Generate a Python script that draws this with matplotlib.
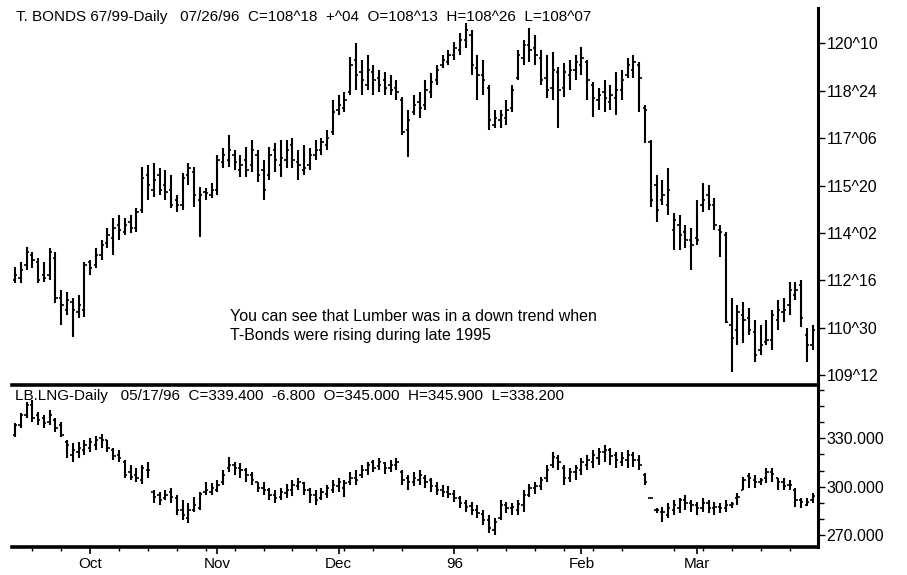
"""
T-Bonds vs Lumber daily bar charts, Sep 1995 - Mar 1996.
"""

import numpy as np
import pandas as pd
import matplotlib
matplotlib.use("Agg")
import matplotlib.pyplot as plt
from matplotlib.ticker import FixedLocator, FuncFormatter

plt.rcParams["font.family"] = ["Liberation Sans", "DejaVu Sans"]

HOLIDAYS = ["1995-11-23", "1995-12-25", "1996-01-01", "1996-02-19"]

TB_HEADER = "T. BONDS 67/99-Daily   07/26/96  C=108^18  +^04  O=108^13  H=108^26  L=108^07"
LB_HEADER = "LB.LNG-Daily   05/17/96  C=339.400  -6.800  O=345.000  H=345.900  L=338.200"
NOTE = ("You can see that Lumber was in a down trend when\n"
        "T-Bonds were rising during late 1995")

# T-Bonds daily OHLC (decimal points)
tb_open = [
    112.51, 112.58, 113.01, 113.34, 113.11, 112.68, 112.68, 113.24, 111.92, 111.53,
    111.79, 111.46, 111.53, 113.11, 113.01, 113.34, 113.73, 113.90, 114.33, 114.10,
    114.43, 114.23, 114.82, 115.97, 115.48, 115.97, 115.64, 115.48, 115.15, 114.98,
    115.97, 116.07, 115.15, 115.41, 115.31, 115.48, 116.40, 116.47, 116.63, 116.14,
    116.47, 116.30, 116.63, 116.14, 115.97, 116.80, 116.30, 116.47, 116.96, 116.40,
    116.14, 116.30, 116.63, 116.80, 116.96, 117.39, 118.12, 118.18, 118.71, 119.76,
    119.37, 118.94, 119.37, 119.17, 119.10, 118.94, 118.84, 118.45, 117.46, 118.05,
    118.38, 118.28, 118.71, 119.10, 119.60, 119.70, 119.93, 120.09, 120.42, 120.59,
    119.50, 119.27, 118.84, 117.62, 117.79, 117.85, 118.18, 119.17, 119.83, 120.26,
    120.16, 119.83, 119.17, 118.84, 119.37, 118.84, 119.27, 119.43, 119.60, 119.70,
    118.94, 118.45, 118.71, 118.38, 118.51, 118.78, 119.27, 119.43, 119.60, 118.18,
    117.06, 115.64, 115.15, 114.98, 114.16, 114.33, 114.10, 113.83, 113.90, 114.98,
    115.31, 114.98, 114.16, 114.00, 111.03, 110.87, 111.36, 111.26, 110.80, 110.21,
    110.47, 110.54, 111.20, 111.46, 111.69, 112.02, 112.35, 110.70, 110.37,
]
tb_high = [
    112.94, 113.11, 113.60, 113.44, 113.24, 113.11, 113.57, 113.44, 112.19, 112.12,
    111.92, 112.02, 113.11, 113.17, 113.57, 113.83, 114.23, 114.56, 114.66, 114.56,
    114.66, 114.89, 116.24, 116.30, 116.37, 116.20, 116.14, 115.97, 115.31, 116.04,
    116.37, 116.24, 115.58, 115.54, 115.71, 116.63, 116.86, 117.29, 116.80, 116.63,
    116.90, 117.13, 116.80, 116.47, 116.90, 117.03, 117.13, 117.13, 117.19, 116.80,
    116.96, 116.86, 117.13, 117.19, 117.46, 118.45, 118.61, 118.71, 119.86, 120.32,
    119.76, 119.93, 119.60, 119.43, 119.37, 119.27, 119.10, 118.54, 118.12, 118.61,
    118.71, 119.10, 119.33, 119.60, 119.93, 120.09, 120.36, 120.65, 120.98, 120.75,
    119.93, 119.76, 118.94, 118.12, 118.12, 118.45, 118.94, 120.09, 120.42, 120.82,
    120.59, 120.09, 119.93, 120.03, 119.53, 119.66, 119.76, 119.93, 120.19, 119.76,
    119.04, 118.84, 119.10, 118.94, 119.37, 119.43, 119.83, 119.93, 119.70, 118.28,
    117.13, 115.97, 115.81, 116.20, 114.72, 114.66, 114.33, 114.23, 115.15, 115.71,
    115.64, 115.22, 114.33, 114.10, 111.92, 111.69, 111.79, 111.59, 111.20, 111.03,
    111.20, 111.53, 111.86, 111.92, 112.45, 112.45, 112.51, 110.93, 111.03,
]
tb_low = [
    112.41, 112.41, 112.84, 112.91, 112.41, 112.45, 112.51, 111.76, 111.03, 111.36,
    110.64, 111.26, 111.30, 112.68, 112.91, 113.17, 113.57, 113.34, 113.83, 114.00,
    114.06, 114.10, 114.72, 115.15, 115.25, 115.31, 115.15, 114.89, 114.75, 114.82,
    115.64, 114.92, 113.93, 115.15, 115.22, 115.31, 116.20, 116.24, 116.14, 115.91,
    115.91, 116.07, 115.74, 115.15, 115.81, 116.07, 115.91, 116.20, 116.20, 115.81,
    115.97, 116.14, 116.47, 116.63, 116.80, 117.29, 117.95, 118.05, 118.61, 118.78,
    118.61, 118.78, 118.61, 118.71, 118.61, 118.61, 118.45, 117.29, 116.57, 117.95,
    117.85, 118.12, 118.51, 118.94, 119.50, 119.60, 119.76, 119.93, 120.16, 119.27,
    118.45, 118.61, 117.46, 117.52, 117.52, 117.62, 118.05, 119.10, 119.60, 119.70,
    119.60, 118.94, 118.51, 118.45, 117.52, 118.54, 118.78, 119.10, 119.27, 118.45,
    117.89, 118.12, 118.05, 118.12, 117.95, 118.45, 119.17, 119.17, 118.05, 117.03,
    114.92, 114.43, 114.98, 114.66, 113.50, 113.50, 113.57, 112.84, 113.67, 114.75,
    114.82, 114.16, 113.27, 111.10, 109.48, 110.37, 110.44, 110.70, 109.81, 110.04,
    110.37, 110.21, 110.87, 111.13, 111.36, 111.86, 110.97, 109.81, 110.21,
]
tb_close = [
    112.68, 112.84, 113.44, 113.17, 112.51, 112.58, 113.44, 111.92, 111.69, 111.86,
    111.53, 111.69, 113.01, 112.91, 113.34, 113.67, 114.00, 114.23, 114.16, 114.33,
    114.23, 114.75, 115.87, 115.64, 115.81, 115.48, 115.41, 114.98, 114.98, 115.87,
    116.20, 115.31, 115.31, 115.38, 115.48, 116.47, 116.63, 116.80, 116.40, 116.30,
    116.14, 116.80, 115.97, 115.48, 116.63, 116.47, 116.53, 116.80, 116.47, 116.30,
    116.20, 116.63, 116.80, 117.06, 117.19, 118.05, 118.28, 118.45, 119.60, 119.27,
    119.10, 119.43, 119.10, 118.94, 118.84, 118.78, 118.71, 117.39, 117.79, 118.28,
    118.18, 118.78, 119.04, 119.43, 119.76, 119.93, 120.16, 120.42, 120.75, 119.60,
    119.27, 119.10, 117.79, 117.85, 117.95, 118.12, 118.78, 119.93, 120.26, 120.09,
    119.93, 119.10, 118.78, 119.43, 118.78, 119.37, 119.43, 119.70, 119.83, 119.10,
    118.51, 118.61, 118.51, 118.61, 118.78, 119.10, 119.60, 119.70, 119.17, 118.12,
    115.15, 114.82, 115.31, 115.48, 114.49, 114.00, 113.83, 113.67, 113.83, 115.15,
    114.98, 114.33, 114.10, 111.13, 110.60, 111.46, 111.20, 110.87, 110.04, 110.37,
    110.54, 111.36, 111.53, 111.53, 112.19, 112.19, 111.26, 110.37, 110.87,
]

# Lumber daily OHLC
lb_open = [
    332.1, 338.3, 344.5, 350.7, 344.5, 342.6, 340.1, 341.4, 338.3, 327.7,
    319.6, 321.5, 322.7, 324.0, 325.8, 330.2, 329.0, 322.7, 319.6, 315.3,
    309.1, 307.2, 304.1, 310.3, 296.7, 294.8, 293.0, 296.7, 293.0, 285.5,
    280.5, 285.5, 286.8, 296.7, 296.7, 297.9, 302.9, 311.6, 313.4, 311.6,
    310.3, 307.2, 302.9, 299.2, 297.9, 294.8, 293.6, 296.1, 297.9, 300.4,
    302.3, 297.9, 294.8, 293.0, 295.4, 297.9, 300.4, 299.2, 302.9, 305.4,
    307.2, 310.3, 315.3, 312.8, 314.7, 311.6, 313.4, 309.1, 305.4, 302.9,
    304.1, 305.4, 304.1, 300.4, 297.9, 296.7, 295.4, 293.0, 289.9, 288.0,
    285.5, 283.0, 279.3, 273.1, 280.5, 288.6, 286.8, 285.5, 288.6, 294.8,
    299.2, 300.4, 305.4, 313.4, 317.8, 311.6, 305.4, 309.1, 310.3, 313.4,
    315.3, 317.8, 321.5, 322.7, 319.6, 315.3, 316.5, 319.6, 316.5, 307.2,
    293.0, 285.5, 284.3, 282.4, 285.5, 286.8, 291.7, 289.9, 288.6, 286.8,
    289.9, 286.8, 287.4, 286.8, 288.6, 293.0, 297.9, 306.6, 304.1, 302.9,
    305.4, 309.1, 305.4, 302.9, 301.0, 297.9, 291.7, 288.6, 291.7,
]
lb_high = [
    339.5, 345.7, 352.5, 353.8, 346.3, 344.5, 347.6, 342.6, 340.1, 329.0,
    327.1, 327.7, 329.0, 330.2, 331.4, 332.7, 329.0, 324.0, 322.7, 316.5,
    313.4, 311.6, 313.4, 315.3, 297.9, 296.7, 297.9, 299.2, 294.8, 291.7,
    289.9, 293.6, 296.7, 302.9, 302.3, 304.1, 310.3, 318.4, 315.3, 314.7,
    311.6, 309.1, 302.9, 302.9, 299.2, 297.9, 299.2, 301.6, 304.1, 305.4,
    302.9, 299.2, 297.9, 299.2, 301.0, 304.1, 305.4, 304.1, 309.1, 310.3,
    313.4, 315.3, 316.5, 317.8, 315.3, 316.5, 317.8, 310.3, 307.2, 309.1,
    310.3, 307.2, 305.4, 302.9, 301.0, 300.4, 297.9, 294.2, 291.7, 290.5,
    288.6, 285.5, 282.4, 280.5, 291.7, 290.5, 289.9, 291.7, 297.9, 301.6,
    302.9, 306.0, 313.4, 321.5, 319.6, 313.4, 311.6, 313.4, 317.8, 319.6,
    322.7, 324.0, 325.8, 324.0, 321.5, 321.5, 322.7, 321.5, 319.6, 308.5,
    293.0, 286.8, 287.4, 289.9, 291.7, 293.0, 294.8, 291.7, 290.5, 293.0,
    291.7, 290.5, 289.9, 291.7, 290.5, 296.1, 306.0, 308.5, 307.2, 305.4,
    311.6, 311.6, 305.4, 305.4, 304.1, 299.2, 293.0, 293.0, 296.1,
]
lb_low = [
    330.8, 336.4, 342.6, 340.1, 338.3, 336.4, 338.3, 333.9, 330.8, 317.8,
    315.3, 317.8, 319.6, 321.5, 322.7, 324.0, 321.5, 316.5, 315.3, 305.4,
    304.1, 302.9, 301.6, 305.4, 289.9, 288.6, 291.7, 289.9, 282.4, 279.3,
    277.4, 284.3, 285.5, 294.8, 294.8, 296.7, 301.0, 309.1, 307.2, 305.4,
    302.9, 301.0, 296.7, 294.8, 291.7, 289.9, 291.7, 293.0, 294.2, 297.9,
    294.8, 289.9, 288.6, 291.7, 293.0, 296.1, 296.7, 293.6, 301.0, 301.0,
    305.4, 307.2, 309.1, 310.3, 307.9, 309.1, 310.3, 301.0, 297.9, 300.4,
    301.0, 299.2, 296.7, 294.8, 293.6, 293.0, 290.5, 286.8, 284.3, 282.4,
    280.5, 276.2, 271.2, 270.0, 279.3, 283.6, 282.4, 282.4, 284.3, 293.6,
    295.4, 297.9, 302.9, 311.6, 310.3, 301.0, 302.9, 304.1, 307.2, 310.3,
    311.6, 313.4, 315.3, 313.4, 311.6, 312.8, 311.6, 312.2, 310.3, 301.0,
    293.0, 283.6, 278.1, 280.5, 282.4, 283.6, 285.5, 284.3, 282.4, 284.3,
    283.6, 282.4, 283.6, 284.3, 286.8, 288.6, 297.9, 299.2, 299.2, 301.0,
    302.3, 302.9, 297.9, 297.9, 297.9, 287.4, 286.8, 288.0, 289.9,
]
lb_close = [
    338.3, 344.5, 350.7, 342.6, 341.4, 339.5, 344.5, 336.4, 332.1, 325.8,
    322.7, 324.0, 325.8, 327.7, 329.0, 329.0, 324.0, 319.0, 317.8, 307.2,
    306.0, 305.4, 311.6, 310.3, 293.6, 291.7, 294.8, 293.6, 285.5, 282.4,
    285.5, 288.6, 295.4, 297.9, 299.2, 301.0, 307.2, 313.4, 311.6, 310.3,
    307.2, 304.1, 299.2, 297.9, 294.8, 293.0, 296.7, 297.9, 301.0, 302.9,
    297.9, 294.8, 291.7, 296.7, 299.2, 301.0, 302.9, 302.3, 305.4, 304.1,
    310.3, 313.4, 311.6, 315.3, 311.6, 313.4, 315.3, 304.1, 302.9, 305.4,
    307.2, 302.9, 300.4, 297.9, 296.7, 295.4, 293.0, 289.9, 287.4, 285.5,
    283.6, 279.3, 274.3, 278.1, 288.6, 286.8, 287.4, 289.2, 294.8, 299.2,
    300.4, 304.1, 310.3, 318.4, 315.3, 305.4, 309.1, 311.6, 315.3, 316.5,
    319.6, 321.5, 322.7, 319.0, 316.5, 317.8, 319.6, 316.5, 313.4, 302.9,
    293.0, 285.5, 284.3, 286.8, 288.6, 291.7, 289.9, 288.6, 286.8, 289.9,
    286.8, 287.4, 286.8, 288.6, 289.2, 293.6, 304.1, 305.4, 302.9, 304.1,
    309.1, 307.9, 302.9, 300.4, 301.0, 291.7, 290.5, 290.5, 294.2,
]

TB_TICKS = [109.375, 110.9375, 112.5, 114.0625, 115.625, 117.1875, 118.75, 120.3125]
LB_TICKS = [270, 300, 330]

FIG_W, FIG_H = 907, 575


def to_32nds(v, pos=None):
    whole = int(np.floor(v + 1e-9))
    frac = int(round((v - whole) * 32))
    return f"{whole}^{frac:02d}"


def draw_bars(ax, o, h, l, c):
    x = np.arange(len(c))
    ax.vlines(x, l, h, color="black", lw=1.5)
    ax.hlines(o, x - 0.4, x, color="black", lw=1.2)
    ax.hlines(c, x, x + 0.4, color="black", lw=1.2)


def px_axes(fig, left, top, right, bottom):
    return fig.add_axes([left / FIG_W, 1 - bottom / FIG_H,
                         (right - left) / FIG_W, (bottom - top) / FIG_H])


def main():
    dates = pd.bdate_range("1995-09-13", "1996-03-29")
    dates = dates[~dates.isin(pd.to_datetime(HOLIDAYS))]
    n = len(dates)

    fig = plt.figure(figsize=(FIG_W / 100, FIG_H / 100), dpi=100)
    ax_tb = px_axes(fig, 12, 8, 818, 385)
    ax_lb = px_axes(fig, 12, 385, 818, 547)

    draw_bars(ax_tb, tb_open, tb_high, tb_low, tb_close)
    draw_bars(ax_lb, lb_open, lb_high, lb_low, lb_close)

    for ax in (ax_tb, ax_lb):
        ax.set_xlim(-0.52, n - 0.07)
        ax.spines["left"].set_visible(False)
        ax.spines["right"].set_linewidth(2.2)
        ax.yaxis.tick_right()
        ax.tick_params(axis="y", direction="out", length=5, width=1,
                       labelsize=11.5, pad=1)

    # T-Bonds panel
    ax_tb.set_ylim(109.05, 121.48)
    for side in ("top", "bottom"):
        ax_tb.spines[side].set_visible(False)
    ax_tb.set_xticks([])
    ax_tb.yaxis.set_major_locator(FixedLocator(TB_TICKS))
    ax_tb.yaxis.set_major_formatter(FuncFormatter(to_32nds))

    # Lumber panel
    ax_lb.set_ylim(262.56, 363.08)
    ax_lb.spines["top"].set_linewidth(2.6)
    ax_lb.spines["bottom"].set_linewidth(2.6)
    ax_lb.yaxis.set_major_locator(FixedLocator(LB_TICKS))
    ax_lb.yaxis.set_minor_locator(FixedLocator(np.arange(260, 361, 10)))
    ax_lb.yaxis.set_major_formatter(FuncFormatter(lambda v, p: f"{v:.3f}"))
    ax_lb.tick_params(axis="y", which="minor", direction="out", length=4, width=1)

    idx = np.arange(n)
    months = dates.to_period("M")
    month_start = idx[np.r_[True, months[1:] != months[:-1]]][1:]
    mondays = idx[dates.weekday == 0]
    labels = ["96" if dates[i].month == 1 else dates[i].strftime("%b")
              for i in month_start]
    ax_lb.set_xticks(month_start)
    ax_lb.set_xticklabels(labels)
    ax_lb.set_xticks(mondays, minor=True)
    ax_lb.tick_params(axis="x", which="major", direction="out", length=5,
                      width=1.2, labelsize=11, pad=2)
    ax_lb.tick_params(axis="x", which="minor", direction="out", length=3, width=1)

    fig.text(16 / FIG_W, 1 - 17 / FIG_H, TB_HEADER, fontsize=11,
             ha="left", va="center")
    fig.text(15 / FIG_W, 1 - 396 / FIG_H, LB_HEADER, fontsize=11,
             ha="left", va="center")
    fig.text(230 / FIG_W, 1 - 326 / FIG_H, NOTE, fontsize=11.5,
             ha="left", va="center", linespacing=1.3)

    fig.savefig("out.png", dpi=100, facecolor="white")
    plt.close(fig)


if __name__ == "__main__":
    main()
